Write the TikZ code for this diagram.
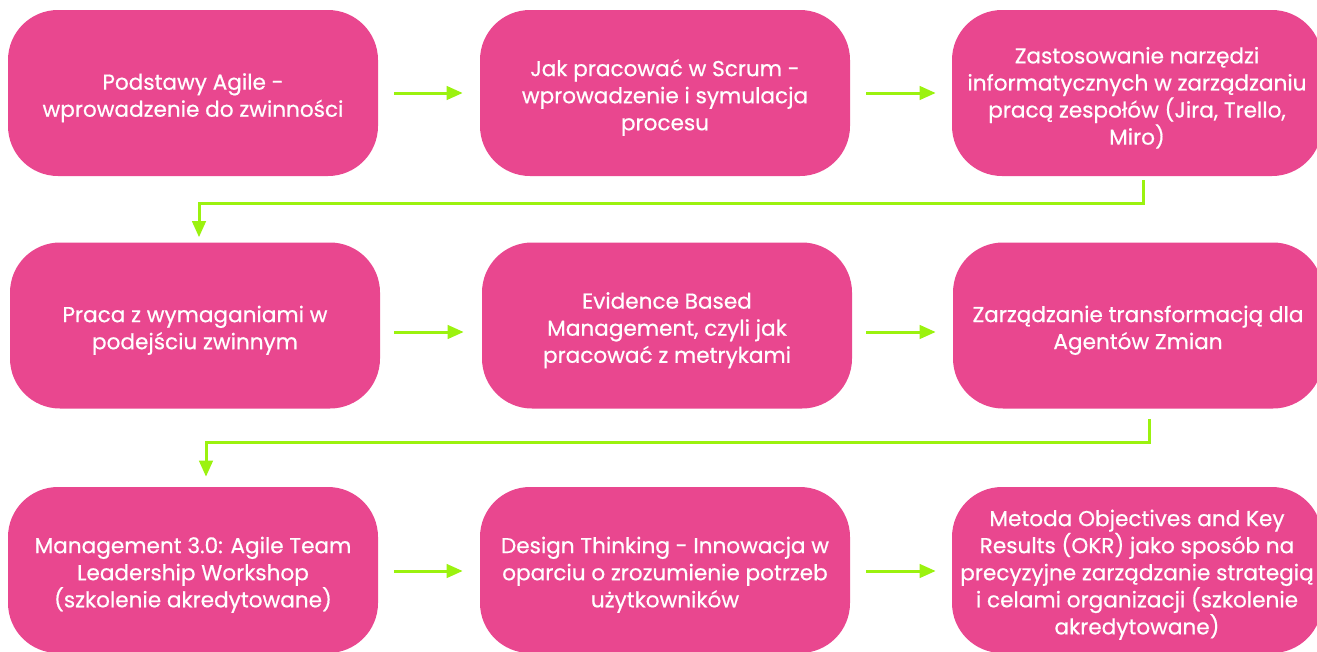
\documentclass[tikz,border=0pt]{standalone}
\usepackage{fontspec}
\setmainfont{Poppins}[FakeBold=0.6]
\usetikzlibrary{arrows.meta,calc}
\definecolor{boxpink}{HTML}{E9478F}
\definecolor{limeg}{HTML}{9BF20F}
\newcommand{\topstrut}{\rule{0pt}{19.5pt}}
\begin{document}
\begin{tikzpicture}[x=0.75pt,y=-0.75pt,
  box/.style={fill=boxpink, rounded corners=37.5pt, minimum width=277.5pt,
    minimum height=124.5pt, text=white, align=center,
    font=\fontsize{16.2}{20.3}\selectfont, inner sep=0pt},
  conn/.style={draw=limeg, line width=2.25pt,
    -{Triangle[length=12pt,width=10pt]}}]
\useasboundingbox (0,0) rectangle (1317,651);
\clip (0,0) rectangle (1317,651);
% row 1
\node[box] (b1) at (193,93) {\topstrut Podstawy Agile -\\wprowadzenie do zwinności};
\node[box] (b2) at (665,93) {\topstrut Jak pracować w Scrum -\\wprowadzenie i symulacja\\procesu};
\node[box] (b3) at (1137,93) {\topstrut Zastosowanie narzędzi\\informatycznych w zarządzaniu\\pracą zespołów (Jira, Trello,\\Miro)};
% row 2
\node[box] (b4) at (195,325.5) {\topstrut Praca z wymaganiami w\\podejściu zwinnym};
\node[box] (b5) at (667,325.5) {\topstrut Evidence Based\\Management, czyli jak\\pracować z metrykami};
\node[box] (b6) at (1138,325.5) {\topstrut Zarządzanie transformacją dla\\Agentów Zmian};
% row 3
\node[box] (b7) at (193,570) {\topstrut Management 3.0: Agile Team\\Leadership Workshop\\(szkolenie akredytowane)};
\node[box] (b8) at (665,570) {\topstrut Design Thinking - Innowacja w\\oparciu o zrozumienie potrzeb\\użytkowników};
\node[box] (b9) at (1137,570) {\topstrut Metoda Objectives and Key\\Results (OKR) jako sposób na\\precyzyjne zarządzanie strategią\\i celami organizacji (szkolenie\\akredytowane)};
% horizontal arrows
\draw[conn] ($(b1.east)+(16,0)$) -- ($(b2.west)+(-17,0)$);
\draw[conn] ($(b2.east)+(16,0)$) -- ($(b3.west)+(-16,0)$);
\draw[conn] ($(b4.east)+(14,6.5)$) -- ($(b5.west)+(-18,6.5)$);
\draw[conn] ($(b5.east)+(14,6.5)$) -- ($(b6.west)+(-17,6.5)$);
\draw[conn] ($(b7.east)+(16,1)$) -- ($(b8.west)+(-17,1)$);
\draw[conn] ($(b8.east)+(16,1)$) -- ($(b9.west)+(-16,1)$);
% row-change connectors
\coordinate (c1a) at ($(b3.south)+(6,4)$);
\coordinate (c1b) at ($(b4.north)+(4,-5)$);
\draw[conn] (c1a) -- ++(0,23) -| (c1b);
\coordinate (c2a) at ($(b6.south)+(11,10)$);
\coordinate (c2b) at ($(b7.north)+(13,-10)$);
\draw[conn] (c2a) -- ++(0,24) -| (c2b);
\end{tikzpicture}
\end{document}
